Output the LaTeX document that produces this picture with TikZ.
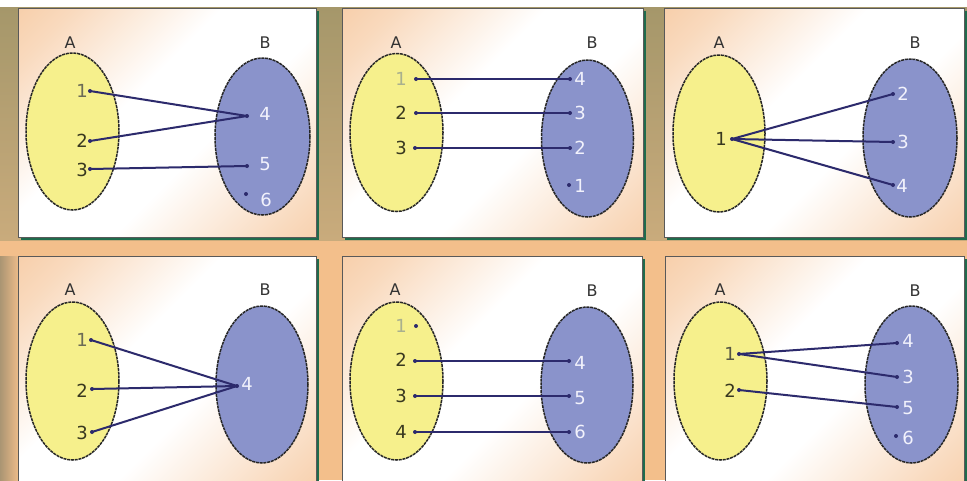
\documentclass[tikz,border=0pt]{standalone}
\usepackage{fontspec}
\setmainfont{DejaVu Sans}
\definecolor{peach}{HTML}{F4BB88}
\definecolor{orangebg}{HTML}{F3BF8B}
\definecolor{khakitop}{HTML}{A5976A}
\definecolor{khakibot}{HTML}{C9AB7C}
\definecolor{shadowgreen}{HTML}{1F6B4C}
\definecolor{yellowset}{HTML}{F6F08C}
\definecolor{blueset}{HTML}{8A93CB}
\definecolor{linkc}{HTML}{2C2A6C}
\definecolor{darknum}{HTML}{38381F}
\definecolor{greynum}{HTML}{6B6B55}
\definecolor{palenum}{HTML}{A9B08E}
\definecolor{whitenum}{HTML}{F2F2FC}
\pgfdeclarehorizontalshading{panelfade}{100bp}{color(0bp)=(peach);
  color(22bp)=(peach!55!white); color(42bp)=(white); color(58bp)=(white);
  color(80bp)=(peach!55!white); color(100bp)=(peach)}
\tikzset{
  panelbox/.style={shading=panelfade, shading angle=-45, draw=black!65, line width=0.8pt},
  setA/.style={fill=yellowset, draw=black!85, line width=1.5pt, dash pattern=on 3pt off 0.8pt},
  setB/.style={fill=blueset, draw=black!85, line width=1.5pt, dash pattern=on 3pt off 0.8pt},
  lbl/.style={text=black!80, font=\fontsize{16}{16}\selectfont, inner sep=0pt},
  numA/.style={text=darknum, font=\fontsize{18}{18}\selectfont, inner sep=0pt},
  numB/.style={text=whitenum, font=\fontsize{18}{18}\selectfont, inner sep=0pt},
  dot/.style={circle, fill=linkc, inner sep=0pt, minimum size=4pt},
  link/.style={draw=linkc, line width=2pt}
}
% panel with a dark-green drop shadow: #1,#2 top-left corner, #3,#4 bottom-right corner
\newcommand{\drawpanel}[4]{%
  \fill[shadowgreen] (#1+2.5,#2+2.5) rectangle (#3+2.5,#4+2.5);
  \shade[panelbox] (#1,#2) rectangle (#3,#4);}
\begin{document}
\begin{tikzpicture}[x=1pt,y=-1pt]
\useasboundingbox (0,0) rectangle (967,480);
% backdrop
\fill[orangebg] (0,0) rectangle (967,480);
\shade[top color=khakitop, bottom color=khakibot] (0,7) rectangle (967,240);
\shade[left color=khakibot!80!black!90, right color=orangebg] (0,256) rectangle (20,480);
\fill[white] (0,0) rectangle (967,7);

% ---------- panels ----------
\drawpanel{18}{8}{316}{237}
\drawpanel{342}{8}{643}{237}
\drawpanel{664}{8}{964}{237}
\drawpanel{18}{256}{316}{486}
\drawpanel{342}{256}{642}{486}
\drawpanel{665}{256}{964}{486}

% ---------- panel 1 ----------
\draw[setA] (72.5,131.5) ellipse [x radius=46.5, y radius=78.5];
\draw[setB] (262.5,136.5) ellipse [x radius=47.5, y radius=78.5];
\node[lbl] (p1A) at (70,43) {A};
\node[lbl] (p1B) at (265,43) {B};
\node[numA, text=greynum] (p1t1) at (82,91) {1};
\node[numA] (p1t2) at (82,141) {2};
\node[numA] (p1t3) at (82,170) {3};
\node[dot] (p1a1) at (90,91) {};
\node[dot] (p1a2) at (90,141) {};
\node[dot] (p1a3) at (90,169) {};
\node[numB] (p1t4) at (265,114) {4};
\node[numB] (p1t5) at (265,164) {5};
\node[numB] (p1t6) at (266,200) {6};
\node[dot] (p1b4) at (247,116) {};
\node[dot] (p1b5) at (247,166) {};
\node[dot] (p1b6) at (246,194) {};
\draw[link] (p1a1.center) -- (p1b4.center);
\draw[link] (p1a2.center) -- (p1b4.center);
\draw[link] (p1a3.center) -- (p1b5.center);

% ---------- panel 2 ----------
\draw[setA] (396.5,132.5) ellipse [x radius=46.5, y radius=79];
\draw[setB] (587.5,138.5) ellipse [x radius=46, y radius=78.5];
\node[lbl] (p2A) at (396,43) {A};
\node[lbl] (p2B) at (592,43) {B};
\node[numA, text=palenum] (p2t1) at (401,79) {1};
\node[numA] (p2t2) at (401,113) {2};
\node[numA] (p2t3) at (401,148) {3};
\node[dot] (p2a1) at (416,79) {};
\node[dot] (p2a2) at (416,113) {};
\node[dot] (p2a3) at (415,148) {};
\node[numB] (p2t4) at (580,79) {4};
\node[numB] (p2t3b) at (580,113) {3};
\node[numB] (p2t2b) at (580,148) {2};
\node[numB] (p2t1b) at (580,186) {1};
\node[dot] (p2b4) at (570,79) {};
\node[dot] (p2b3) at (570,113) {};
\node[dot] (p2b2) at (570,148) {};
\node[dot] (p2b1) at (569,185) {};
\draw[link] (p2a1.center) -- (p2b4.center);
\draw[link] (p2a2.center) -- (p2b3.center);
\draw[link] (p2a3.center) -- (p2b2.center);

% ---------- panel 3 ----------
\draw[setA] (719,133.5) ellipse [x radius=46, y radius=78.5];
\draw[setB] (910,138) ellipse [x radius=47, y radius=79];
\node[lbl] (p3A) at (719,43) {A};
\node[lbl] (p3B) at (915,43) {B};
\node[numA] (p3t1) at (721,139) {1};
\node[dot] (p3a1) at (732,139) {};
\node[numB] (p3t2) at (903,94) {2};
\node[numB] (p3t3) at (903,142) {3};
\node[numB] (p3t4) at (902,186) {4};
\node[dot] (p3b2) at (893,94) {};
\node[dot] (p3b3) at (893,142) {};
\node[dot] (p3b4) at (893,185) {};
\draw[link] (p3a1.center) -- (p3b2.center);
\draw[link] (p3a1.center) -- (p3b3.center);
\draw[link] (p3a1.center) -- (p3b4.center);

% ---------- panel 4 ----------
\draw[setA] (72.5,381) ellipse [x radius=46.5, y radius=79];
\draw[setB] (262,384.5) ellipse [x radius=46, y radius=78.5];
\node[lbl] (p4A) at (70,290) {A};
\node[lbl] (p4B) at (265,290) {B};
\node[numA, text=greynum] (p4t1) at (82,340) {1};
\node[numA] (p4t2) at (82,391) {2};
\node[numA] (p4t3) at (82,433) {3};
\node[dot] (p4a1) at (91,340) {};
\node[dot] (p4a2) at (92,389) {};
\node[dot] (p4a3) at (92,432) {};
\node[numB] (p4t4) at (247,384) {4};
\node[dot] (p4b4) at (237,386) {};
\draw[link] (p4a1.center) -- (p4b4.center);
\draw[link] (p4a2.center) -- (p4b4.center);
\draw[link] (p4a3.center) -- (p4b4.center);

% ---------- panel 5 ----------
\draw[setA] (396.5,381) ellipse [x radius=46.5, y radius=79];
\draw[setB] (587,385) ellipse [x radius=46, y radius=78];
\node[lbl] (p5A) at (395,290) {A};
\node[lbl] (p5B) at (592,291) {B};
\node[numA, text=palenum] (p5t1) at (401,326) {1};
\node[numA] (p5t2) at (401,360) {2};
\node[numA] (p5t3) at (401,396) {3};
\node[numA] (p5t4) at (401,432) {4};
\node[dot] (p5a1) at (416,326) {};
\node[dot] (p5a2) at (415,361) {};
\node[dot] (p5a3) at (415,396) {};
\node[dot] (p5a4) at (415,432) {};
\node[numB] (p5t4b) at (580,363) {4};
\node[numB] (p5t5) at (580,398) {5};
\node[numB] (p5t6) at (580,432) {6};
\node[dot] (p5b4) at (569,361) {};
\node[dot] (p5b5) at (569,396) {};
\node[dot] (p5b6) at (569,432) {};
\draw[link] (p5a2.center) -- (p5b4.center);
\draw[link] (p5a3.center) -- (p5b5.center);
\draw[link] (p5a4.center) -- (p5b6.center);

% ---------- panel 6 ----------
\draw[setA] (720.5,381) ellipse [x radius=46.5, y radius=79];
\draw[setB] (911.5,384.5) ellipse [x radius=46.5, y radius=78.5];
\node[lbl] (p6A) at (720,290) {A};
\node[lbl] (p6B) at (915,291) {B};
\node[numA, text=greynum!80!black] (p6t1) at (730,354) {1};
\node[numA] (p6t2) at (730,391) {2};
\node[dot] (p6a1) at (739,354) {};
\node[dot] (p6a2) at (739,390) {};
\node[numB] (p6t4) at (908,341) {4};
\node[numB] (p6t3) at (908,377) {3};
\node[numB] (p6t5) at (908,408) {5};
\node[numB] (p6t6) at (908,438) {6};
\node[dot] (p6b4) at (897,343) {};
\node[dot] (p6b3) at (897,377) {};
\node[dot] (p6b5) at (897,407) {};
\node[dot] (p6b6) at (896,436) {};
\draw[link] (p6a1.center) -- (p6b4.center);
\draw[link] (p6a1.center) -- (p6b3.center);
\draw[link] (p6a2.center) -- (p6b5.center);
\end{tikzpicture}
\end{document}
